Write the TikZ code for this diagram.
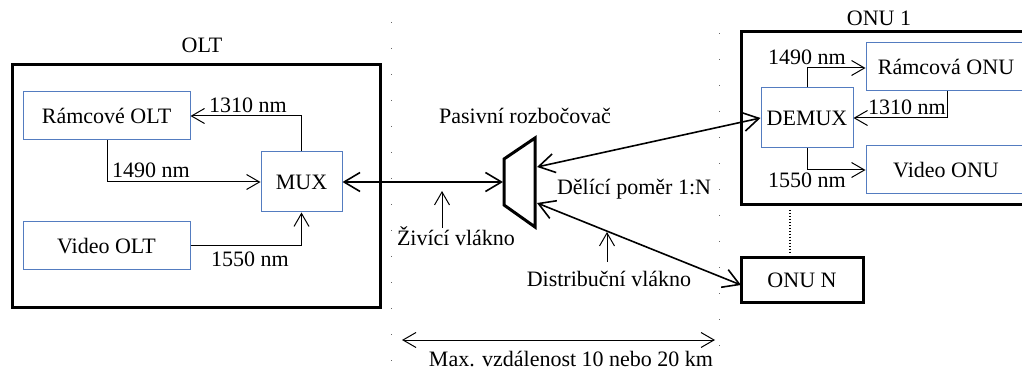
\documentclass[tikz,border=0pt]{standalone}
\usepackage{fontspec}
\setmainfont{Liberation Serif}
\newfontfamily\tnr{Liberation Serif}
\usetikzlibrary{arrows.meta}
\definecolor{boxblue}{RGB}{84,124,192}
\tikzset{
  txt/.style={font=\tnr\fontsize{22}{26}\selectfont, inner sep=0pt},
  bluebox/.style={txt, draw=boxblue, line width=1pt, anchor=center},
  thickbox/.style={draw=black, line width=3pt, inner sep=0pt},
  conn/.style={line width=1pt, -{Straight Barb[length=13pt,width=15pt]}},
  fiber/.style={line width=1.6pt, {Straight Barb[length=16pt,width=19pt]}-{Straight Barb[length=16pt,width=19pt]}},
  gridline/.style={black!60, line width=1pt, dash pattern=on 1pt off 25pt},
}
\begin{document}
\begin{tikzpicture}[x=1pt,y=-1pt]
\useasboundingbox (0,0) rectangle (1022,371);

% dotted guide lines
\coordinate (gl1) at (391,22);
\coordinate (gl2) at (391,366);
\coordinate (gr1) at (719,33);
\coordinate (gr2) at (719,360);
\draw[gridline] (gl1) -- (gl2);
\draw[gridline] (gr1) -- (gr2);

% OLT
\node[thickbox, minimum width=368pt, minimum height=242pt] (olt) at (196,186) {};
\node[txt, anchor=base] (oltlbl) at (202,53) {OLT};
\node[bluebox, minimum width=167pt, minimum height=48pt] (ramolt) at (106.5,116) {Rámcové OLT};
\node[bluebox, minimum width=167pt, minimum height=48pt] (vidolt) at (106.5,246) {Video OLT};
\node[bluebox, minimum width=81pt, minimum height=60pt] (mux) at (301.5,182) {MUX};

\coordinate (c1310) at (301.5,116);
\draw[conn] (mux.north) -- (c1310) -- (ramolt.east);
\node[txt, anchor=base] (l1310) at (248,113) {1310 nm};
\coordinate (c1490) at (107,182);
\draw[conn] (ramolt.south -| c1490) -- (c1490) -- (mux.west);
\node[txt, anchor=base] (l1490) at (151,178) {1490 nm};
\coordinate (c1550) at (301.5,246);
\draw[conn] (vidolt.east) -- (c1550) -- (mux.south);
\node[txt, anchor=base] (l1550) at (250,266) {1550 nm};

% splitter
\coordinate (s1) at (504,159);
\coordinate (s2) at (535,138);
\coordinate (s3) at (535,227);
\coordinate (s4) at (504,205);
\draw[line width=3pt, line join=miter] (s1) -- (s2) -- (s3) -- (s4) -- cycle;
\coordinate (spL) at (503,182);
\coordinate (spR1) at (537,167);
\coordinate (spR2) at (537,203);
\node[txt, anchor=base] (splbl) at (525,124) {Pasivní rozbočovač};
\node[txt, anchor=base] (ratio) at (634,195) {Dělící poměr 1:N};

% ONU 1
\node[thickbox, minimum width=289pt, minimum height=173pt] (onu1) at (885.5,118.5) {};
\node[txt, anchor=base] (onu1lbl) at (879,26) {ONU 1};
\node[bluebox, minimum width=160pt, minimum height=48pt] (ramonu) at (946,67) {Rámcová ONU};
\node[bluebox, minimum width=160pt, minimum height=48pt] (vidonu) at (946,170) {Video ONU};
\node[bluebox, minimum width=92pt, minimum height=60pt] (demux) at (807,118) {DEMUX};

\coordinate (d1490) at (807,68);
\draw[conn] (demux.north) -- (d1490) -- (ramonu.west |- d1490);
\node[txt, anchor=base] (m1490) at (807,65) {1490 nm};
\coordinate (d1310a) at (947,91);
\coordinate (d1310) at (947,118);
\draw[conn] (d1310a) -- (d1310) -- (demux.east);
\node[txt, anchor=base] (m1310) at (907,115) {1310 nm};
\coordinate (d1550) at (807,170);
\draw[conn] (demux.south) -- (d1550) -- (vidonu.west);
\node[txt, anchor=base] (m1550) at (807,188) {1550 nm};

% ONU N
\node[thickbox, txt, minimum width=122pt, minimum height=44pt] (onun) at (802,280) {ONU N};
\coordinate (dd1) at (790,210);
\coordinate (dd2) at (790,253);
\draw[line width=1.2pt, dash pattern=on 1.5pt off 1.5pt] (dd1) -- (dd2);

% fibers
\draw[fiber] (mux.east) -- (spL);
\draw[fiber] (spR1) -- (demux.west);
\coordinate (onunIn) at (741,285);
\draw[fiber] (spR2) -- (onunIn);

% pointers
\node[txt, anchor=base] (feed) at (456,246) {Živící vlákno};
\coordinate (p1a) at (442,228);
\coordinate (p1b) at (442,191);
\draw[conn] (p1a) -- (p1b);
\node[txt, anchor=base] (dist) at (609,287) {Distribuční vlákno};
\coordinate (p2a) at (607,262);
\coordinate (p2b) at (607,232);
\draw[conn] (p2a) -- (p2b);

% distance
\coordinate (da) at (402,340);
\coordinate (db) at (715,340);
\draw[line width=1pt, {Straight Barb[length=13pt,width=15pt]}-{Straight Barb[length=13pt,width=15pt]}] (da) -- (db);
\node[txt, anchor=base] (dlbl) at (571,366) {Max. vzdálenost 10 nebo 20 km};
\end{tikzpicture}
\end{document}
